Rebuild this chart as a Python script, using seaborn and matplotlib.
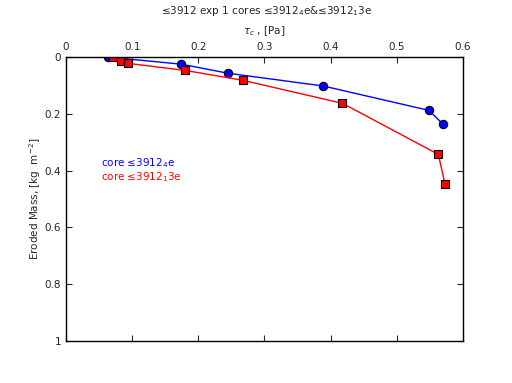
import matplotlib
matplotlib.use("Agg")
import matplotlib.pyplot as plt
import seaborn as sns
import pandas as pd

# core 4e (blue)
tau_4e = [0.063, 0.174, 0.245, 0.389, 0.549, 0.570]
mass_4e = [0.000, 0.025, 0.057, 0.102, 0.188, 0.237]
# core 13e (red)
tau_13e = [0.0715, 0.083, 0.093, 0.180, 0.2675, 0.418, 0.563, 0.573]
mass_13e = [0.001, 0.015, 0.022, 0.047, 0.082, 0.163, 0.343, 0.448]

veri = pd.concat([
    pd.DataFrame({"tau": tau_4e, "mass": mass_4e, "core": "4e"}),
    pd.DataFrame({"tau": tau_13e, "mass": mass_13e, "core": "13e"}),
])

sns.set_style("white")
plt.rcParams["font.family"] = ["DejaVu Sans"]
fig = plt.figure(figsize=(5.12, 3.83), dpi=100)
ax = fig.add_axes([0.129, 0.110, 0.775, 0.741])

renkler = {"4e": "blue", "13e": "red"}
isaretler = {"4e": "o", "13e": "s"}
sns.lineplot(data=veri, x="tau", y="mass", hue="core", style="core",
             palette=renkler, markers=isaretler, dashes=False, sort=False,
             estimator=None, markersize=6, markeredgecolor="black",
             markeredgewidth=0.8, linewidth=1, legend=False, ax=ax)

ax.set_xlim(0, 0.6)
ax.set_ylim(1, 0)
ax.set_xticks([0, 0.1, 0.2, 0.3, 0.4, 0.5, 0.6])
ax.set_xticklabels(["0", "0.1", "0.2", "0.3", "0.4", "0.5", "0.6"])
ax.set_yticks([0, 0.2, 0.4, 0.6, 0.8, 1])
ax.set_yticklabels(["0", "0.2", "0.4", "0.6", "0.8", "1"])
ax.xaxis.tick_top()
ax.xaxis.set_label_position("top")
ax.tick_params(direction="in", length=4, labelsize=7.5, width=0.8,
               top=True, bottom=True, left=True, right=True)
for s in ax.spines.values():
    s.set_color("black")
    s.set_linewidth(1)

ax.set_xlabel(r"$\tau_c$ , [Pa]", fontsize=7.5, labelpad=6)
ax.set_ylabel(r"Eroded Mass, [kg  m$^{-2}$]", fontsize=7.5, labelpad=1)
fig.text(0.52, 0.972, r"≤3912 exp 1 cores ≤3912$_4$e&≤3912$_1$3e",
         ha="center", va="center", fontsize=7.5)

ax.text(0.087, 0.626, r"core ≤3912$_4$e", color="blue", fontsize=7.5,
        va="center", transform=ax.transAxes)
ax.text(0.087, 0.578, r"core ≤3912$_1$3e", color="red", fontsize=7.5,
        va="center", transform=ax.transAxes)

plt.savefig("out.png", dpi=100)
